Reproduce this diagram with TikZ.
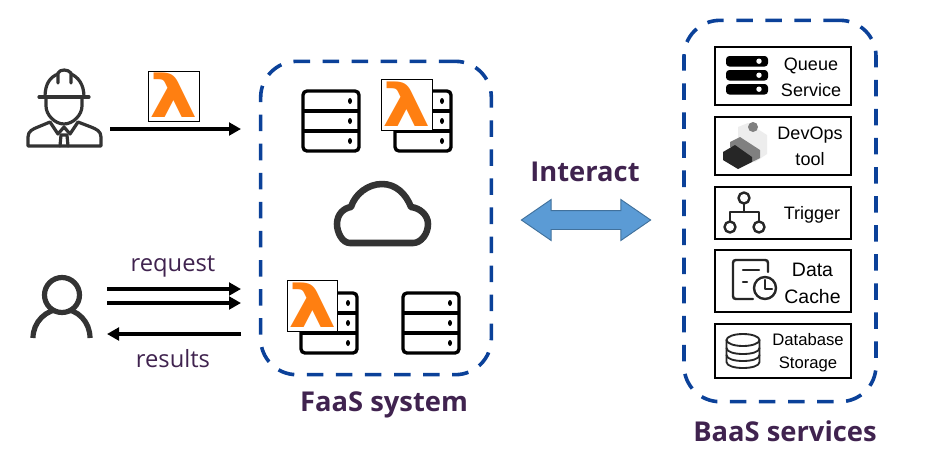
\documentclass[tikz,border=0pt]{standalone}
\usepackage{fontspec}
\setmainfont{Liberation Sans}
\newfontfamily\seg{Open Sans}
\newfontfamily\lam{DejaVu Sans}
\usetikzlibrary{arrows.meta,shapes.arrows}
\definecolor{fblue}{HTML}{0B4199}
\definecolor{orng}{HTML}{FF7F11}
\definecolor{plum}{HTML}{40234F}
\definecolor{icon}{HTML}{333333}
\definecolor{arrfill}{HTML}{5B9BD5}
\definecolor{arredge}{HTML}{41719C}
\newcommand\lamglyph{\scalebox{1.3}[1.0]{λ}}
\tikzset{
  frame/.style={draw=fblue,line width=2.7pt,dash pattern=on 12.4pt off 9.4pt,rounded corners=27pt,inner sep=0pt,outer sep=0pt},
  svc/.style={draw=black,line width=1.5pt,fill=white,minimum width=102pt,inner sep=0pt,outer sep=0pt},
  flow/.style={line width=2.5pt,-{Triangle[length=9pt,width=9.5pt]}},
  lambox/.style={draw=black,line width=0.9pt,fill=white,minimum width=38pt,minimum height=38pt,inner sep=0pt,outer sep=0pt},
  lamtext/.style={text=orng,font=\lam\bfseries\fontsize{44}{44}\selectfont,inner sep=0pt},
  ico/.style={draw=icon,line width=2.4pt,line join=round,line cap=round},
  sico/.style={draw=black!85,line width=1.8pt,line join=round,line cap=round},
  svctext/.style={align=center,text=black,inner sep=0pt,font=\fontsize{13.5}{19.5}\selectfont},
  big/.style={text=plum,inner sep=0pt,font=\seg\bfseries\fontsize{20.5}{24}\selectfont},
  small/.style={text=plum,inner sep=0pt,font=\seg\fontsize{17.8}{20}\selectfont},
}
\newcommand\srv[2]{%
  \begin{scope}[shift={(#1,#2)}]
    \draw[black,line width=2.5pt,rounded corners=3pt,fill=white] (0,0) rectangle (56,60);
    \draw[black,line width=2.5pt] (0,20)--(56,20) (0,40)--(56,40);
    \foreach \yy in {10,30,50}{\fill[black] (47,\yy) ellipse [x radius=2,y radius=3];}
  \end{scope}}
\begin{document}
\begin{tikzpicture}[x=0.75pt,y=-0.75pt]
\useasboundingbox (0,0) rectangle (932,455);
% frames
\node[frame,minimum width=173pt,minimum height=235pt] (faas) at (376,218) {};
\node[frame,minimum width=144pt,minimum height=286pt] (baas) at (780,211) {};
% worker icon
\draw[ico] (39,97)--(89,97);
\draw[ico] (45,97) .. controls (45,84) and (50,77) .. (58,74);
\draw[ico] (71,74) .. controls (78,77) and (84,84) .. (84,97);
\draw[ico] (58,83)--(58,73) .. controls (60,69) and (68,69) .. (71,73)--(71,83);
\draw[ico] (46,97)--(46,106) .. controls (46,115) and (55,124) .. (64,124) .. controls (73,124) and (82,115) .. (82,106)--(82,97);
\draw[ico] (28,146)--(28,137) .. controls (28,131) and (33,129) .. (38,127)--(50,122)--(58,134)--(64,127)--(70,134)--(78,122)--(91,127) .. controls (96,129) and (101,131) .. (101,137)--(101,146)--cycle;
\draw[ico] (60,146)--(61,135)--(67,135)--(68,146);
% user icon
\draw[draw=icon,line width=3.9pt] (33,338) .. controls (33,322) and (46,309) .. (62,309) .. controls (78,309) and (90,322) .. (90,338);
\draw[draw=icon,fill=white,line width=3.9pt] (62,295) circle [radius=17.5];
% connectors left
\node[lambox] (lam1) at (174,96.5) {};
\node[lamtext] (l1) at ([yshift=0.6pt]lam1.center) {\lamglyph};
\coordinate (a1s) at (110,129); \coordinate (a1e) at (241,129);
\coordinate (a2s) at (107,289); \coordinate (a2e) at (241,289);
\coordinate (a3s) at (107,303); \coordinate (a3e) at (241,303);
\coordinate (a4s) at (241,334); \coordinate (a4e) at (107,334);
\draw[flow] (a1s)--(a1e);
\draw[flow] (a2s)--(a2e);
\draw[flow] (a3s)--(a3e);
\draw[flow] (a4s)--(a4e);
\node[small] (req) at (173,267) {request};
\node[small] (res) at (173,358.5) {results};
% servers
\srv{303}{91}
\srv{395}{91}
\node[lambox] (lam2) at (407,105) {};
\node[lamtext] (l2) at ([yshift=0.6pt]lam2.center) {\lamglyph};
\srv{301}{293}
\node[lambox] (lam3) at (312.5,306) {};
\node[lamtext] (l3) at ([yshift=0.6pt]lam3.center) {\lamglyph};
\srv{403}{293}
% cloud
\draw[draw=icon,line width=4.9pt,line join=round] (350,243) .. controls (342,243) and (337,232) .. (337,224) .. controls (337,214) and (344,208) .. (351,207) .. controls (355,194) and (368,184) .. (382,184) .. controls (396,184) and (406,194) .. (411,207) .. controls (420,208) and (428,215) .. (428,224) .. controls (428,234) and (421,243) .. (413,243) -- cycle;
% titles
\node[big] (ftitle) at (384,405) {FaaS system};
\node[big] (btitle) at (785,431) {BaaS services};
\node[big] (inter) at (585,172) {Interact};
% interact arrow
\node[double arrow,draw=arredge,fill=arrfill,line width=0.7pt,minimum height=97pt,double arrow head extend=8.25pt,double arrow tip angle=69,inner sep=0pt] (link) at (586,220) {\rule{0pt}{13.5pt}};
% service boxes
\node[svc,minimum height=43pt] (b1) at (783,76) {};
\node[svc,minimum height=43pt] (b2) at (783,146) {};
\node[svc,minimum height=39pt] (b3) at (783,212.5) {};
\node[svc,minimum height=46pt] (b4) at (783,281) {};
\node[svc,minimum height=40pt] (b5) at (783,351) {};
\node[svctext] (t1) at (811,77) {Queue\\Service};
\node[svctext] (t2) at (810,146) {DevOps\\tool};
\node[svctext] (t3) at (812,215) {Trigger};
\node[svctext,font=\fontsize{14.6}{20.2}\selectfont] (t4) at (812.5,283) {Data\\Cache};
\node[svctext,font=\fontsize{12.5}{17}\selectfont] (t5) at (808,353) {Database\\Storage};
% queue icon
\foreach \yy in {56,70,84}{
  \fill[black,rounded corners=2.5pt] (726,\yy) rectangle (768,\yy+10.5);
  \fill[white] (759,\yy+5.2) circle [radius=2.7];
}
% devops icon
\fill[black!7] (738,127)--(748,123)--(767,135)--(767,154)--(755,162)--(738,150)--cycle;
\fill[black!50] (753,127) circle [radius=5];
\fill[black!50] (730,142)--(740,137)--(760,150)--(760,158)--(752,162)--(730,147)--cycle;
\fill[black!85] (723,152)--(735,145)--(752,157)--(752,162)--(738,169)--(723,160)--cycle;
% trigger icon
\draw[sico] (744,198) circle [radius=5.5];
\draw[sico] (744,203.5)--(744,212) (730,221.5)--(730,212)--(759,212)--(759,221.5);
\draw[sico] (730,227) circle [radius=5.5];
\draw[sico] (759,227) circle [radius=5.5];
% data cache icon
\draw[sico] (768,272)--(768,263) .. controls (768,261) and (767,260) .. (765,260)--(736,260) .. controls (734,260) and (733,261) .. (733,263)--(733,296) .. controls (733,298) and (734,299) .. (736,299)--(753,299);
\draw[sico] (743,270)--(759,270) (743,282)--(747,282);
\draw[sico] (765,288) circle [radius=11];
\draw[sico] (765,280)--(765,289)--(772,289);
% database icon
\draw[sico,line width=1.4pt] (743,340) ellipse [x radius=16.5,y radius=6];
\draw[sico,line width=1.4pt] (726.5,340)--(726.5,362) .. controls (726.5,370) and (759.5,370) .. (759.5,362)--(759.5,340);
\draw[sico,line width=1.4pt] (726.5,348) .. controls (726.5,356) and (759.5,356) .. (759.5,348);
\draw[sico,line width=1.4pt] (726.5,355) .. controls (726.5,363) and (759.5,363) .. (759.5,355);
\end{tikzpicture}
\end{document}
